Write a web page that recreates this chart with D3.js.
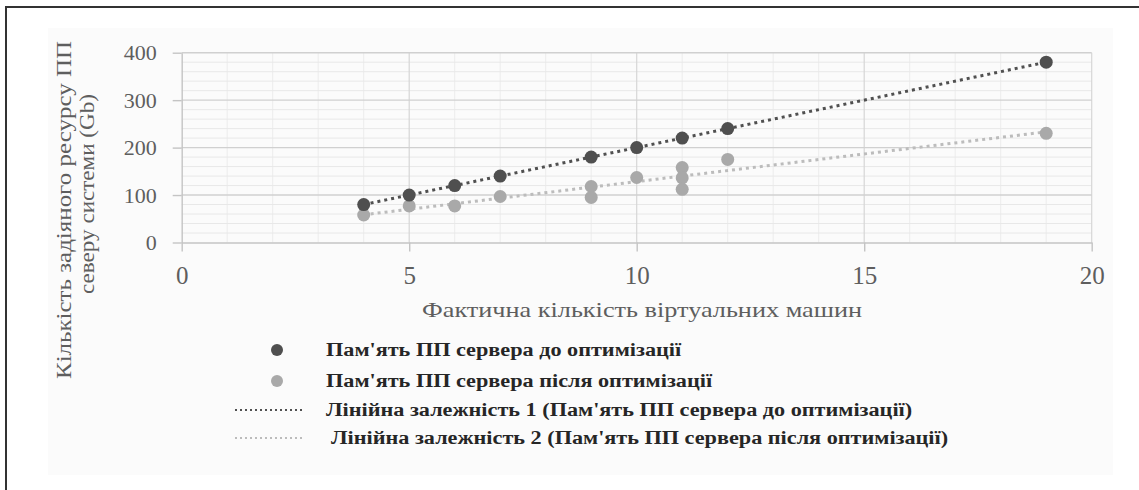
<!DOCTYPE html>
<html>
<head>
<meta charset="utf-8">
<script src="https://cdn.jsdelivr.net/npm/d3@7"></script>
<style>
  html, body { margin: 0; padding: 0; background: #fff; }
  svg { display: block; }
  text { font-family: "Liberation Serif", "Times New Roman", serif; }
</style>
</head>
<body>
<svg id="chart" width="1139" height="490"></svg>
<script>
// Memory of the PP server vs. actual number of virtual machines
const vmBefore  = [4, 5, 6, 7, 9, 10, 11, 12, 19];
const memBefore = [80, 100, 120, 140, 180, 200, 220, 240, 380];

const vmAfter  = [4, 5, 6, 7, 9, 9, 10, 11, 11, 11, 12, 19];
const memAfter = [58, 77, 77, 97, 118, 95, 137, 158, 136, 112, 175, 230];

const xTicks = [0, 5, 10, 15, 20];
const yTicks = [0, 100, 200, 300, 400];

const xTitle = "Фактична кількість віртуальних машин";
const yTitleLines = ["Кількість задіяного ресурсу ПП", "северу системи (Gb)"];
const legendLabels = [
  "Пам'ять ПП сервера до оптимізації",
  "Пам'ять ПП сервера після оптимізації",
  "Лінійна залежність 1 (Пам'ять ПП сервера до оптимізації)",
  "Лінійна залежність 2 (Пам'ять ПП сервера після оптимізації)"
];

const colDark = "#4f4f4f";
const colLight = "#a9a9a9";
const colTrendDark = "#505050";
const colTrendLight = "#bcbcbc";
const colAxisText = "#5e5e5e";

const svg = d3.select("#chart");

// frame and faint chart area
svg.append("rect").attr("x", 6).attr("y", 7).attr("width", 1200).attr("height", 600)
  .attr("fill", "#fff").attr("stroke", "#333").attr("stroke-width", 2);
svg.append("rect").attr("x", 48).attr("y", 28).attr("width", 1065).attr("height", 447)
  .attr("fill", "#fbfbfb");

const x = d3.scaleLinear().domain([0, 20]).range([181.7, 1091.7]);
const y = d3.scaleLinear().domain([0, 400]).range([242.5, 52.7]);

const plot = svg.append("g");

// minor gridlines
plot.append("g").selectAll("line").data(d3.range(0, 21, 1).filter(v => v % 5 !== 0)).join("line")
  .attr("x1", d => x(d)).attr("x2", d => x(d)).attr("y1", y(0)).attr("y2", y(400))
  .attr("stroke", "#ececec").attr("stroke-width", 1);
plot.append("g").selectAll("line").data(d3.range(0, 401, 20).filter(v => v % 100 !== 0)).join("line")
  .attr("x1", x(0)).attr("x2", x(20)).attr("y1", d => y(d)).attr("y2", d => y(d))
  .attr("stroke", "#e8e8e8").attr("stroke-width", 1);

// major gridlines
plot.append("g").selectAll("line").data(xTicks.slice(1)).join("line")
  .attr("x1", d => x(d)).attr("x2", d => x(d)).attr("y1", y(0)).attr("y2", y(400))
  .attr("stroke", "#d6d6d6").attr("stroke-width", 1.2);
plot.append("g").selectAll("line").data(yTicks.slice(1)).join("line")
  .attr("x1", x(0)).attr("x2", x(20)).attr("y1", d => y(d)).attr("y2", d => y(d))
  .attr("stroke", "#d0d0d0").attr("stroke-width", 1.4);

// axes
const xAxis = plot.append("g").attr("transform", `translate(0,${y(0)})`)
  .call(d3.axisBottom(x).tickValues(xTicks).tickSize(9).tickPadding(15).tickSizeOuter(0));
const yAxis = plot.append("g").attr("transform", `translate(${x(0)},0)`)
  .call(d3.axisLeft(y).tickValues(yTicks).tickSize(9).tickPadding(16).tickSizeOuter(0));
[xAxis, yAxis].forEach(a => {
  a.select(".domain").attr("stroke", "#c4c4c4").attr("stroke-width", 1.4);
  a.selectAll(".tick line").attr("stroke", "#c4c4c4").attr("stroke-width", 1.4);
  a.selectAll(".tick text").attr("fill", colAxisText)
    .attr("font-family", "Liberation Serif, serif");
});
xAxis.selectAll(".tick text").attr("font-size", 25);
yAxis.selectAll(".tick text").attr("font-size", 22);

// least-squares trend lines
function fit(xs, ys) {
  const mx = d3.mean(xs), my = d3.mean(ys);
  const sxy = d3.sum(xs, (v, i) => (v - mx) * (ys[i] - my));
  const sxx = d3.sum(xs, v => (v - mx) * (v - mx));
  const b = sxy / sxx;
  return { a: my - b * mx, b };
}
function trend(xs, ys) {
  const f = fit(xs, ys);
  const [lo, hi] = d3.extent(xs);
  return [[lo, f.a + f.b * lo], [hi, f.a + f.b * hi]];
}
const line = d3.line().x(d => x(d[0])).y(d => y(d[1]));

plot.append("path").datum(trend(vmAfter, memAfter)).attr("d", line)
  .attr("fill", "none").attr("stroke", colTrendLight).attr("stroke-width", 3)
  .attr("stroke-dasharray", "3,4");
plot.append("path").datum(trend(vmBefore, memBefore)).attr("d", line)
  .attr("fill", "none").attr("stroke", colTrendDark).attr("stroke-width", 3)
  .attr("stroke-dasharray", "3,4");

// points
plot.append("g").selectAll("circle").data(vmAfter.map((v, i) => [v, memAfter[i]])).join("circle")
  .attr("cx", d => x(d[0])).attr("cy", d => y(d[1])).attr("r", 6.5).attr("fill", colLight);
plot.append("g").selectAll("circle").data(vmBefore.map((v, i) => [v, memBefore[i]])).join("circle")
  .attr("cx", d => x(d[0])).attr("cy", d => y(d[1])).attr("r", 6.5).attr("fill", colDark);

// axis titles
svg.append("text").attr("x", 642).attr("y", 317).attr("text-anchor", "middle")
  .attr("font-size", 21).attr("fill", colAxisText)
  .attr("textLength", 440).attr("lengthAdjust", "spacingAndGlyphs").text(xTitle);

const yTitlePos = [{ cy: 210, bx: 71, len: 338 }, { cy: 194, bx: 94, len: 200 }];
yTitleLines.forEach((t, i) => {
  const p = yTitlePos[i];
  svg.append("text").attr("transform", `translate(${p.bx},${p.cy}) rotate(-90)`)
    .attr("text-anchor", "middle").attr("font-size", 21).attr("fill", colAxisText)
    .attr("textLength", p.len).attr("lengthAdjust", "spacingAndGlyphs").text(t);
});

// legend
const legendY = [350, 381, 410, 438];
const legendX = [326, 326, 326, 331];
const lg = svg.append("g");
lg.append("circle").attr("cx", 277).attr("cy", legendY[0]).attr("r", 6).attr("fill", colDark);
lg.append("circle").attr("cx", 277).attr("cy", legendY[1]).attr("r", 6).attr("fill", colLight);
lg.append("line").attr("x1", 235).attr("x2", 303).attr("y1", legendY[2]).attr("y2", legendY[2])
  .attr("stroke", colTrendDark).attr("stroke-width", 2).attr("stroke-dasharray", "2,3");
lg.append("line").attr("x1", 235).attr("x2", 303).attr("y1", legendY[3]).attr("y2", legendY[3])
  .attr("stroke", colTrendLight).attr("stroke-width", 2).attr("stroke-dasharray", "2,3");
lg.selectAll("text").data(legendLabels).join("text")
  .attr("transform", (d, i) => `translate(${legendX[i]},${legendY[i] + 6}) scale(1.17,1)`)
  .attr("font-size", 19).attr("font-weight", "bold").attr("fill", "#262626").text(d => d);
</script>
</body>
</html>
